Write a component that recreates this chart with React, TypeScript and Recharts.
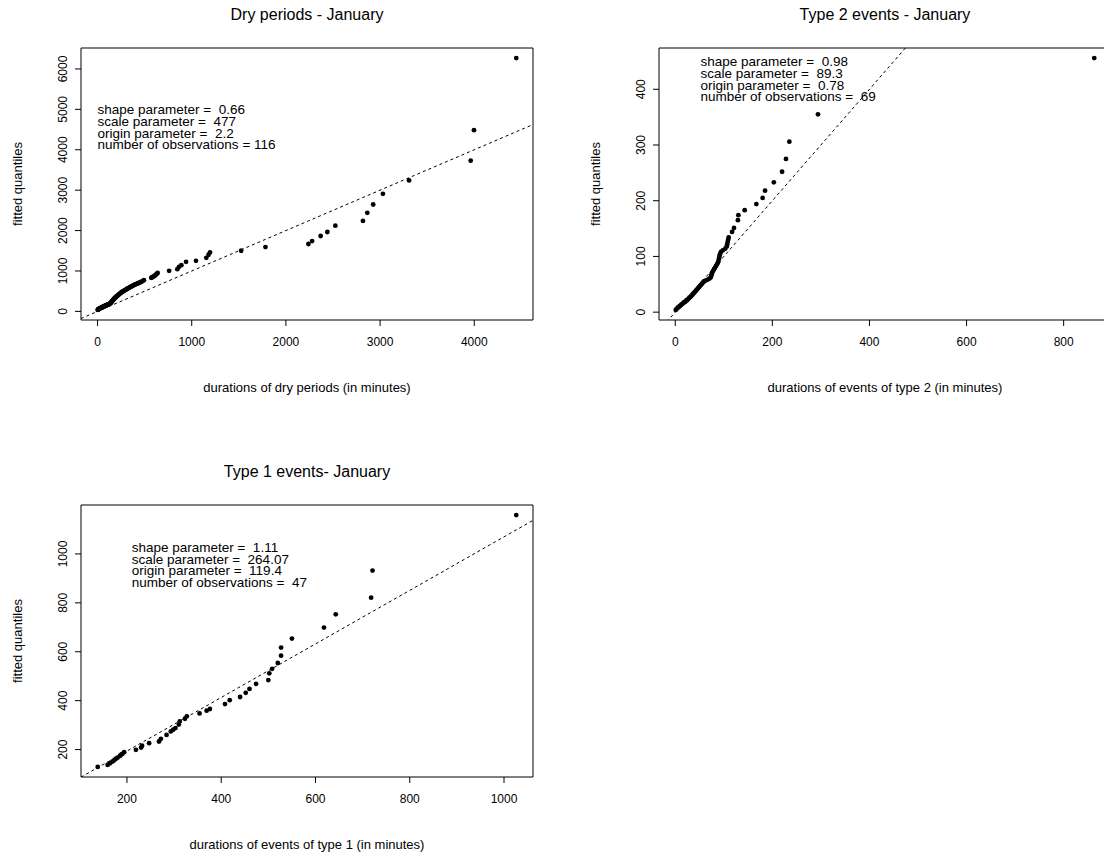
import React from 'react';
import {
  ScatterChart,
  Scatter,
  XAxis,
  YAxis,
  ReferenceLine,
  ReferenceArea,
  ReferenceDot,
} from 'recharts';

const FONT = '"Liberation Sans", Arial, Helvetica, sans-serif';

// ---------- Dry periods - January (116 observations) ----------
const dryObserved = [
  2, 4, 7, 10, 13, 16, 20, 23, 27, 31, 35, 39, 43, 47, 51, 55, 59, 63, 67, 71, 75, 79, 83, 87, 91, 95, 99, 103, 107, 111,
  115, 119, 124, 130, 136,
  140, 144, 148, 152, 156, 160, 164, 168, 172, 176, 181, 186, 191, 196, 201, 207, 213, 219, 225, 231, 237, 244, 251, 258,
  265, 272, 280,
  288, 296, 304, 312, 320, 328, 337, 346, 355, 364, 373, 382, 391, 400, 410, 420, 430, 440, 450, 462,
  476, 492, 570, 578, 586, 596, 608, 618, 628, 638,
  760, 847, 865, 890, 940, 1045, 1155, 1179, 1194, 1525, 1783, 2239, 2278, 2369, 2440, 2525, 2818, 2864, 2927, 3030, 3308,
  3962, 3997, 4446,
];
const dryFitted = [
  36, 42, 47, 52, 57, 62, 66, 71, 76, 81, 86, 90, 95, 100, 104, 109, 113, 118, 122, 127, 131, 135, 139, 144, 148, 152, 157,
  161, 165, 170, 175, 180, 186, 192, 200,
  208, 220, 232, 244, 256, 268, 280, 291, 302, 313, 324, 335, 346, 357, 368, 380, 392, 404, 416, 428, 440, 452, 464, 476,
  488, 498, 508,
  520, 532, 544, 556, 566, 576, 588, 600, 612, 622, 633, 644, 655, 666, 676, 686, 696, 706, 716, 728,
  748, 771, 830, 840, 852, 866, 884, 904, 926, 950,
  1003, 1045, 1102, 1144, 1226, 1251, 1326, 1401, 1460, 1500, 1592, 1667, 1741, 1866, 1965, 2122, 2239, 2438, 2645, 2910,
  3241, 3731, 4485, 6269,
];
const dryXTicks = [0, 1000, 2000, 3000, 4000];
const dryYTicks = [0, 1000, 2000, 3000, 4000, 5000, 6000];
const dryRefLine = [0, 1]; // intercept, slope
const dryText = [
  'shape parameter =  0.66',
  'scale parameter =  477',
  'origin parameter =  2.2',
  'number of observations = 116',
];

// ---------- Type 2 events - January (69 observations) ----------
const type2Observed = [
  1, 3, 5, 7, 9, 11, 13, 15, 17, 19, 21, 23, 25, 27, 29, 31, 33, 35, 37, 39, 41, 43, 45, 47, 49, 51, 53, 55, 57, 59, 61, 66,
  70, 73,
  74, 75, 76, 78, 80, 82, 84, 86, 88, 89, 90, 91, 92, 94, 98, 103, 106, 107, 108, 109, 110,
  117, 121, 129, 130, 143, 167, 180, 185, 203, 220, 228, 235, 294, 863,
];
const type2Fitted = [
  4, 6, 8, 9, 11, 12, 14, 15, 17, 18, 19, 21, 22, 24, 26, 27, 29, 31, 33, 35, 37, 39, 41, 43, 45, 47, 49, 51, 53, 55, 56, 58,
  60, 62,
  65, 68, 71, 74, 77, 80, 83, 86, 89, 92, 96, 100, 104, 108, 111, 114, 118, 122, 126, 130, 134,
  144, 151, 165, 174, 183, 194, 205, 218, 233, 252, 275, 306, 355, 456,
];
const type2XTicks = [0, 200, 400, 600, 800];
const type2YTicks = [0, 100, 200, 300, 400];
const type2RefLine = [0, 1];
const type2Text = [
  'shape parameter =  0.98',
  'scale parameter =  89.3',
  'origin parameter =  0.78',
  'number of observations =  69',
];

// ---------- Type 1 events - January (47 observations) ----------
const type1Observed = [
  138, 159, 164, 169, 172, 175, 177, 180, 185, 187, 190, 194, 219, 230, 232, 247, 268, 272, 284, 293, 298, 303, 310, 312,
  323, 327, 354, 369, 376, 408, 418, 440, 452, 460, 474, 500, 502, 508, 520, 527, 527, 550, 618, 643, 718, 721, 1026,
];
const type1Fitted = [
  129, 137, 144, 151, 155, 160, 163, 167, 174, 178, 182, 189, 199, 208, 216, 226, 233, 244, 260, 274, 281, 288, 302, 315,
  326, 336, 348, 359, 366, 386, 402, 415, 432, 448, 469, 484, 512, 530, 554, 584, 617, 654, 699, 753, 821, 932, 1159,
];
const type1XTicks = [200, 400, 600, 800, 1000];
const type1YTicks = [200, 400, 600, 800, 1000];
const type1RefLine = [-25, 1.095];
const type1Text = [
  'shape parameter =  1.11',
  'scale parameter =  264.07',
  'origin parameter =  119.4',
  'number of observations =  47',
];

// ---------- helpers ----------
const padRange = (vals: number[]): [number, number] => {
  const lo = Math.min(...vals);
  const hi = Math.max(...vals);
  const d = (hi - lo) * 0.04;
  return [lo - d, hi + d];
};

const CHART_W = 552;
const CHART_H = 427;
const Y_AXIS_W = 81;
const X_AXIS_H = 107;
const TOP = 48;
const RIGHT = 19;

const PointShape = (props: any) => {
  const { cx, cy } = props;
  if (cx == null || cy == null) return null;
  return <circle cx={cx} cy={cy} r={2.4} fill="#000" />;
};

const YTick = (props: any) => {
  const { x, y, payload } = props;
  const bx = x - 5;
  return (
    <text
      x={bx}
      y={y}
      transform={`rotate(-90 ${bx} ${y})`}
      textAnchor="middle"
      fontSize={12}
      fontFamily={FONT}
      fill="#000"
    >
      {payload.value}
    </text>
  );
};

const makeAnno = (lines: string[]) => (props: any) => {
  const vb = props.viewBox || {};
  const x = vb.x ?? 0;
  const y = vb.y ?? 0;
  return (
    <text x={x} y={y} fontSize={13.5} fontFamily={FONT} fill="#000" style={{ whiteSpace: 'pre' }}>
      {lines.map((l, i) => (
        <tspan key={i} x={x} dy={i === 0 ? '0.36em' : 11.7} style={{ whiteSpace: 'pre' }}>
          {l}
        </tspan>
      ))}
    </text>
  );
};

type PanelProps = {
  left: number;
  top: number;
  title: string;
  xLabel: string;
  xs: number[];
  ys: number[];
  xTicks: number[];
  yTicks: number[];
  refLine: number[];
  text: string[];
  textX: number;
  textY: number;
};

const Panel = ({ left, top, title, xLabel, xs, ys, xTicks, yTicks, refLine, text, textX, textY }: PanelProps) => {
  const pts = xs.map((x, i) => ({ x, y: ys[i] }));
  const xDom = padRange(xs);
  const yDom = padRange(ys);
  const [a, b] = refLine;
  return (
    <div style={{ position: 'absolute', left, top, width: CHART_W, height: CHART_H }}>
      <div
        style={{
          position: 'absolute',
          left: Y_AXIS_W,
          width: CHART_W - Y_AXIS_W - RIGHT,
          top: 6,
          textAlign: 'center',
          fontFamily: FONT,
          fontSize: 16,
          lineHeight: '18px',
          color: '#000',
        }}
      >
        {title}
      </div>
      <ScatterChart width={CHART_W} height={CHART_H} margin={{ top: TOP, right: RIGHT, bottom: 0, left: 0 }}>
        <XAxis
          type="number"
          dataKey="x"
          domain={xDom}
          allowDataOverflow
          ticks={xTicks}
          interval={0}
          height={X_AXIS_H}
          axisLine={false}
          tickLine={{ stroke: '#000' }}
          tickSize={6}
          tickMargin={11}
          tick={{ fontSize: 12, fill: '#000', fontFamily: FONT }}
          label={{
            value: xLabel,
            position: 'insideTop',
            offset: 63,
            fontSize: 13,
            fill: '#000',
            fontFamily: FONT,
          }}
        />
        <YAxis
          type="number"
          dataKey="y"
          domain={yDom}
          allowDataOverflow
          ticks={yTicks}
          interval={0}
          width={Y_AXIS_W}
          axisLine={false}
          tickLine={{ stroke: '#000' }}
          tickSize={6}
          tickMargin={3}
          tick={<YTick />}
          label={{
            value: 'fitted quantiles',
            angle: -90,
            position: 'insideLeft',
            offset: 17,
            fontSize: 13,
            fill: '#000',
            fontFamily: FONT,
            style: { textAnchor: 'middle' },
          }}
        />
        <ReferenceArea
          x1={xDom[0]}
          x2={xDom[1]}
          y1={yDom[0]}
          y2={yDom[1]}
          fill="none"
          fillOpacity={0}
          stroke="#000"
          strokeWidth={1}
          ifOverflow="visible"
        />
        <ReferenceLine
          segment={[
            { x: xDom[0], y: a + b * xDom[0] },
            { x: xDom[1], y: a + b * xDom[1] },
          ]}
          stroke="#000"
          strokeWidth={1}
          strokeDasharray="3 3"
          ifOverflow="hidden"
        />
        <Scatter data={pts} shape={<PointShape />} isAnimationActive={false} />
        <ReferenceDot x={textX} y={textY} r={0} fill="none" stroke="none" label={makeAnno(text)} />
      </ScatterChart>
    </div>
  );
};

export default function App() {
  return (
    <div
      style={{
        position: 'absolute',
        left: 0,
        top: 0,
        width: 1104,
        height: 855,
        overflow: 'hidden',
        background: '#fff',
      }}
    >
      <Panel
        left={0}
        top={0}
        title="Dry periods - January"
        xLabel="durations of dry periods (in minutes)"
        xs={dryObserved}
        ys={dryFitted}
        xTicks={dryXTicks}
        yTicks={dryYTicks}
        refLine={dryRefLine}
        text={dryText}
        textX={0}
        textY={5000}
      />
      <Panel
        left={578}
        top={0}
        title="Type 2 events - January"
        xLabel="durations of events of type 2 (in minutes)"
        xs={type2Observed}
        ys={type2Fitted}
        xTicks={type2XTicks}
        yTicks={type2YTicks}
        refLine={type2RefLine}
        text={type2Text}
        textX={52}
        textY={450}
      />
      <Panel
        left={0}
        top={457}
        title="Type 1 events- January"
        xLabel="durations of events of type 1 (in minutes)"
        xs={type1Observed}
        ys={type1Fitted}
        xTicks={type1XTicks}
        yTicks={type1YTicks}
        refLine={type1RefLine}
        text={type1Text}
        textX={210}
        textY={1028}
      />
    </div>
  );
}
